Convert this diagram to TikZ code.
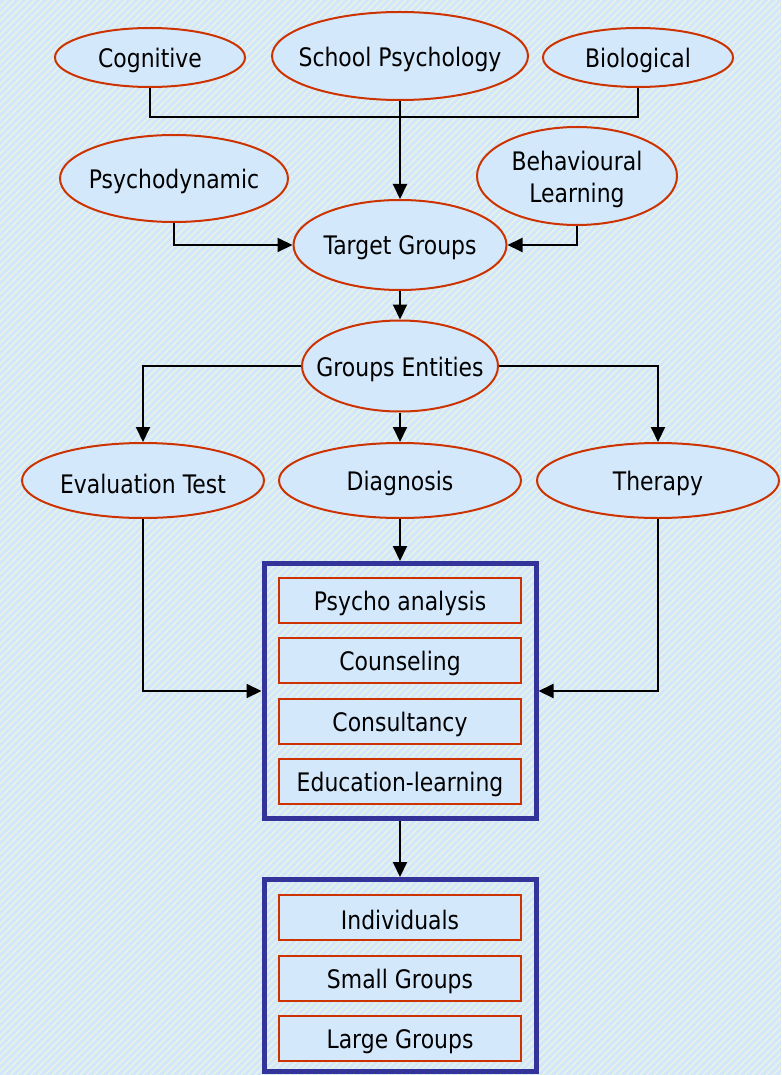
\documentclass[tikz,border=0pt]{standalone}
\usepackage{fontspec}
\setmainfont{DejaVu Sans}[FakeStretch=0.86]
\usetikzlibrary{shapes.geometric,arrows.meta}
\definecolor{bgblue}{RGB}{210,231,251}
\definecolor{bgstripe}{RGB}{238,244,222}
\definecolor{nodefill}{RGB}{212,232,252}
\definecolor{nodeedge}{RGB}{204,51,0}
\definecolor{boxedge}{RGB}{51,51,153}
\tikzset{
  ell/.style={ellipse, draw=nodeedge, fill=nodefill, line width=2pt, inner sep=0pt},
  item/.style={rectangle, draw=nodeedge, fill=nodefill, line width=2pt, inner sep=0pt, minimum width=242pt, minimum height=45pt},
  bigbox/.style={rectangle, draw=boxedge, line width=5pt, inner sep=0pt, minimum width=272pt},
  txt/.style={font=\fontsize{25.5}{32}\selectfont, align=center, inner sep=0pt, yshift=-3pt},
  conn/.style={line width=2pt, black},
  arr/.style={conn, -{Triangle[length=15pt,width=14pt]}},
  stripe/.style={bgstripe, line width=1.2pt}
}
\begin{document}
\begin{tikzpicture}[x=1pt,y=-1pt]
\useasboundingbox (0,0) rectangle (781,1075);
\fill[bgblue] (0,0) rectangle (781,1075);
\begin{scope}
\clip (0,0) rectangle (781,1075);
\foreach \i in {0,7,...,1862} \draw[stripe] (\i-1075,1075) -- (\i,0);
\end{scope}
% ellipses
\node[ell, minimum width=190pt, minimum height=59pt] (cog) at (150,57.5) {};
\node[txt] at (cog) {Cognitive};
\node[ell, minimum width=256pt, minimum height=88pt] (school) at (400,56) {};
\node[txt] at (school) {School Psychology};
\node[ell, minimum width=190pt, minimum height=59pt] (bio) at (638,57.5) {};
\node[txt] at (bio) {Biological};
\node[ell, minimum width=228pt, minimum height=87pt] (psy) at (174,178.5) {};
\node[txt] at (psy) {Psychodynamic};
\node[ell, minimum width=200pt, minimum height=98pt] (beh) at (577,176) {};
\node[txt] at (beh) {Behavioural\\Learning};
\node[ell, minimum width=213pt, minimum height=90pt] (target) at (400,245) {};
\node[txt] at (target) {Target Groups};
\node[ell, minimum width=196pt, minimum height=91pt] (ent) at (400,366) {};
\node[txt] at (ent) {Groups Entities};
\node[ell, minimum width=242pt, minimum height=75pt] (eval) at (143,480.5) {};
\node[txt] at (eval) {Evaluation Test};
\node[ell, minimum width=242pt, minimum height=75pt] (diag) at (400,480.5) {};
\node[txt] at (diag) {Diagnosis};
\node[ell, minimum width=242pt, minimum height=75pt] (ther) at (658,480.5) {};
\node[txt] at (ther) {Therapy};
% boxes
\node[bigbox, minimum height=255pt] (box1) at (400,691) {};
\node[item] (i1) at (400,600) {}; \node[txt] at (i1) {Psycho analysis};
\node[item] (i2) at (400,660.5) {}; \node[txt] at (i2) {Counseling};
\node[item] (i3) at (400,721) {}; \node[txt] at (i3) {Consultancy};
\node[item] (i4) at (400,781.5) {}; \node[txt] at (i4) {Education-learning};
\node[bigbox, minimum height=192pt] (box2) at (400,975.5) {};
\node[item] (j1) at (400,917) {}; \node[txt] at (j1) {Individuals};
\node[item] (j2) at (400,978) {}; \node[txt] at (j2) {Small Groups};
\node[item] (j3) at (400,1038.5) {}; \node[txt] at (j3) {Large Groups};
% connectors
\draw[conn] (cog.south) |- (400,117) -| (bio.south);
\draw[arr] (school.south) -- (target.north);
\draw[arr] (psy.south) |- (target.west);
\draw[arr] (beh.south) |- (target.east);
\draw[arr] (target.south) -- (ent.north);
\draw[arr] (ent.west) -| (eval.north);
\draw[arr] (ent.east) -| (ther.north);
\draw[arr] (ent.south) -- (diag.north);
\draw[arr] (eval.south) |- (box1.west);
\draw[arr] (ther.south) |- (box1.east);
\draw[arr] (diag.south) -- (box1.north);
\draw[arr] (box1.south) -- (box2.north);
\end{tikzpicture}
\end{document}
